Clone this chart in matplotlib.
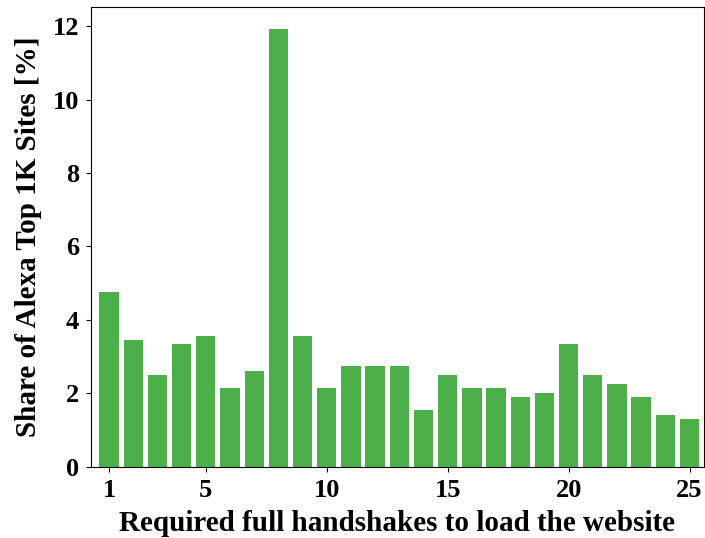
import matplotlib
matplotlib.use("Agg")
import matplotlib.pyplot as plt

# Share of sites (%) by number of full handshakes needed
handshakes = list(range(1, 26))
share_pct = [4.76, 3.45, 2.49, 3.35, 3.56, 2.14, 2.61, 11.93, 3.56, 2.14,
             2.74, 2.74, 2.74, 1.55, 2.50, 2.15, 2.15, 1.90, 2.01, 3.35,
             2.50, 2.25, 1.90, 1.41, 1.30]
xtick_vals = [1, 5, 10, 15, 20, 25]
ytick_vals = [0, 2, 4, 6, 8, 10, 12]

plt.rcParams["font.family"] = ["Liberation Serif", "DejaVu Serif"]
plt.rcParams["font.weight"] = "bold"

fig = plt.figure(figsize=(7.05, 5.38), dpi=100)
ax = fig.add_axes([0.129, 0.1325, 0.8696, 0.855])

ax.bar(handshakes, share_pct, width=0.8, color="#4daf4a")
ax.set_xlim(0.25, 25.6)
ax.set_xticks(xtick_vals)
ax.set_yticks(ytick_vals)
ax.tick_params(labelsize=19, pad=5)
for lbl in ax.get_xticklabels() + ax.get_yticklabels():
    lbl.set_fontweight("bold")

ax.set_xlabel("Required full handshakes to load the website",
              fontsize=21, fontweight="bold", labelpad=6)
ax.set_ylabel("Share of Alexa Top 1K Sites [%]",
              fontsize=21, fontweight="bold", labelpad=8)

fig.savefig("out.png", dpi=100)
